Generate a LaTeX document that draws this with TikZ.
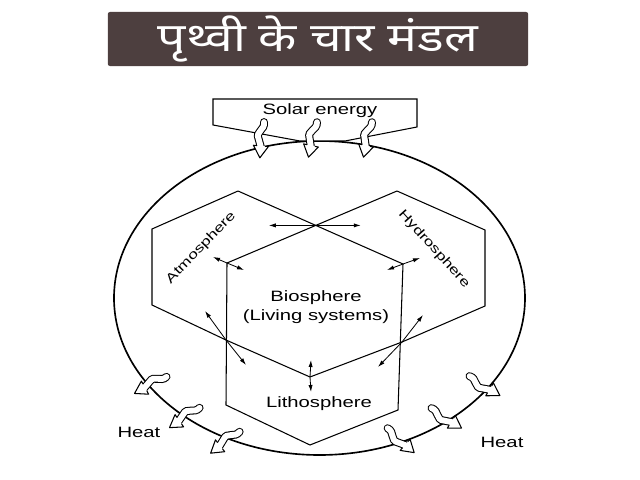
\documentclass[tikz,border=0pt]{standalone}
\usepackage{fontspec}
\setmainfont[FakeStretch=1.35]{Liberation Sans}
\newfontfamily\hindifont[Script=Devanagari,FakeStretch=1.25]{Noto Sans}
\usepackage{xcolor}
\usepackage{tikz}
\usetikzlibrary{arrows.meta}
\definecolor{titlebg}{RGB}{77,63,63}

\tikzset{
	wavy/.pic={
		\draw[line width=0.9pt, double=white, double distance=5pt, line cap=round]
			(1,0) .. controls (3,8) and (-7,10) .. (-3,17) .. controls (-1,21) .. (0,25);
		\fill[white] (-7.5,24) -- (0,36) -- (7.5,24) -- cycle;
		\draw[line width=0.9pt, line join=round]
			(-4,24) -- (-7.5,24) -- (0,36) -- (7.5,24) -- (4,24);
	}
}

\begin{document}
\begin{tikzpicture}[x=0.03cm, y=-0.03cm, line width=0.9pt,
		>={Latex[length=6pt,width=3.6pt]}, font=\fontsize{12.8}{15}\selectfont]
		\useasboundingbox (0,0) rectangle (640,480);
		\node[fill=titlebg, rounded corners=2pt, minimum width=358.9pt, minimum height=45.9pt,
			text=white, font=\hindifont\bfseries\fontsize{34}{38}\selectfont] (title) at (318,39) {पृथ्वी के चार मंडल};

		\draw[line width=1.4pt] (319.5,298) ellipse [x radius=205.5, y radius=157];
		\draw[fill=white] (213,99) -- (417,99) -- (417,127) -- (345,141) -- (300,141) -- (213,125) -- cycle;
		\node[anchor=base] (solar) at (320,115) {Solar energy};

		% arrows in and out
		\pic[rotate=-5] at (263,122) {wavy};
		\pic[rotate=-12] at (316,122) {wavy};
		\pic[rotate=-12] at (371,122) {wavy};
		\foreach \x/\y/\r in {166/376/-61, 199/407/-55, 239/431/-52, 469/377/59, 431/409/58, 387/429/49}
			\pic[rotate=\r] at (\x,\y) {wavy};
		\node[anchor=base] (heatL) at (139,437) {Heat};
		\node[anchor=base] (heatR) at (502,447) {Heat};

		\coordinate (At) at (238,191);
		\coordinate (Ht) at (397,191);
		\coordinate (Al1) at (152,229);
		\coordinate (Al2) at (152,305);
		\coordinate (Hr1) at (485,230);
		\coordinate (Hr2) at (485,306);
		\coordinate (Pl) at (227,263);
		\coordinate (Pr) at (403,264);
		\coordinate (Ql) at (226,340);
		\coordinate (Qr) at (402,342);
		\coordinate (Bb) at (310,377);
		\coordinate (Ll) at (226,405);
		\coordinate (Lb) at (310,445);
		\coordinate (Lr) at (398,410);
		\coordinate (X) at (intersection of At--Pr and Ht--Pl);

		\draw (At) -- (Pr);
		\draw (Ht) -- (Pl);
		\draw (At) -- (Al1) -- (Al2) -- (Ql) -- (Bb) -- (Qr) -- (Hr2) -- (Hr1) -- (Ht);
		\draw (Pl) -- (Ll) -- (Lb) -- (Lr) -- (Pr);

		\foreach \p/\dx/\dy in {X/-47/0, X/45/0, Pl/-14/-6, Pl/17/7, Pr/17/-6, Pr/-16/6,
				Ql/-21/-29, Ql/20/25, Qr/21/-27, Qr/-24/25, Bb/1/-17, Bb/1/15}
			\draw[->, line width=0.7pt] (\p) -- ++(\dx,\dy);

		\node[rotate=46, font=\fontsize{11}{13}\selectfont] (atmo) at (201,248) {Atmosphere};
		\node[rotate=-48, font=\fontsize{11}{13}\selectfont] (hydro) at (434,249) {Hydrosphere};
		\node[align=center, font=\fontsize{12.8}{16.5}\selectfont] (bio) at (316,307) {Biosphere\\(Living systems)};
		\node[anchor=base] (litho) at (319,407) {Lithosphere};
	\end{tikzpicture}
\end{document}
